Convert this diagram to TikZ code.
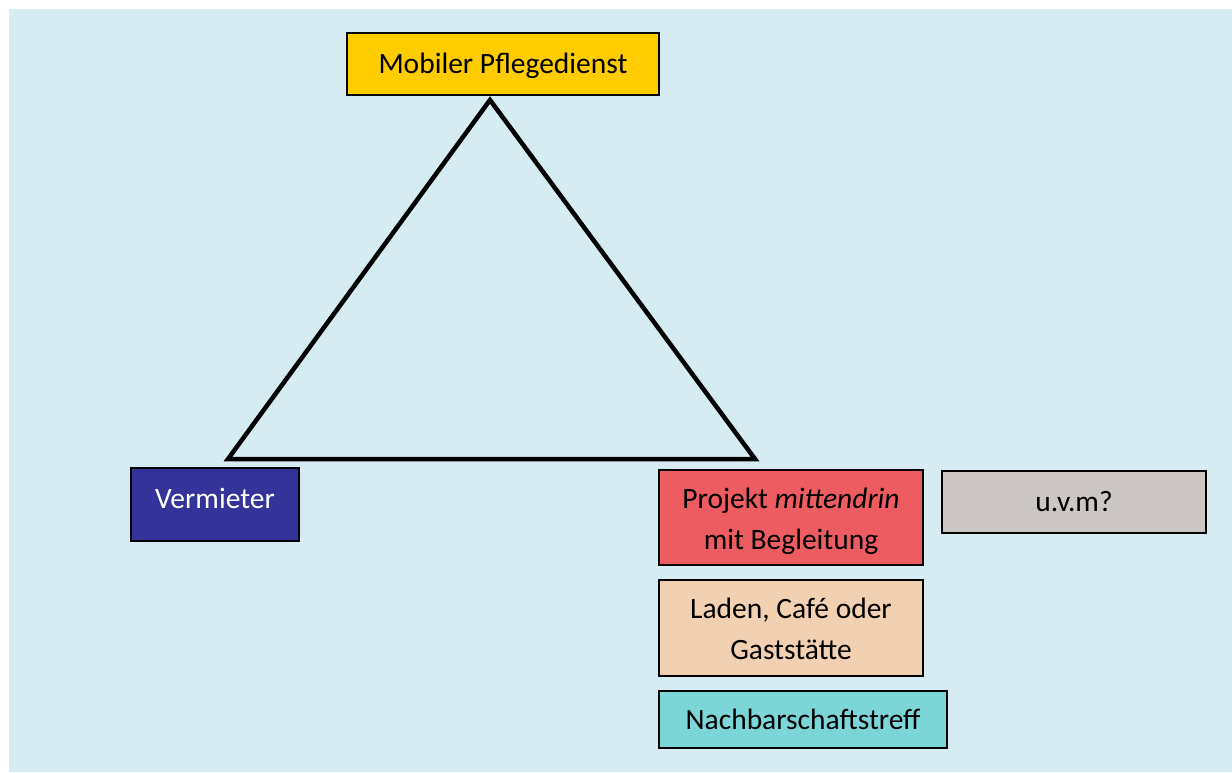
\documentclass[tikz,border=0pt]{standalone}
\usepackage{fontspec}
\setmainfont{Carlito}
\definecolor{bgblue}{RGB}{214,236,242}
\definecolor{pgyellow}{RGB}{255,204,0}
\definecolor{vmblue}{RGB}{51,51,153}
\definecolor{pjred}{RGB}{236,92,96}
\definecolor{uvmgrey}{RGB}{204,198,196}
\definecolor{ldpeach}{RGB}{242,208,178}
\definecolor{nbturq}{RGB}{124,214,216}
\newcommand{\shiftdown}[2]{\raisebox{-#1}[\height][\depth]{#2}}
\tikzset{
  box/.style={draw=black, line width=2pt, inner sep=0pt, align=center,
    font=\fontsize{29.5}{41}\selectfont, text=black},
  tri/.style={draw=black, line width=4.5pt, line join=miter}
}
\begin{document}
\begin{tikzpicture}[x=1pt,y=-1pt]
\useasboundingbox (0,0) rectangle (1232,772);
\fill[bgblue] (9,9) rectangle (1232,772);
\node[box, fill=pgyellow, minimum width=312pt, minimum height=62pt] (pflege) at (503,64) {\shiftdown{2pt}{Mobiler Pflegedienst}};
\node[box, fill=vmblue, text=white, minimum width=168pt, minimum height=73pt] (vermieter) at (215,504.5) {\shiftdown{-6pt}{Vermieter}};
\node[box, fill=pjred, minimum width=264pt, minimum height=95pt] (projekt) at (791,517.5) {\shiftdown{3pt}{\begin{tabular}{@{}c@{}}Projekt \textit{mittendrin}\\mit Begleitung\end{tabular}}};
\node[box, fill=uvmgrey, minimum width=264pt, minimum height=62pt] (uvm) at (1074,502) {u.v.m?};
\node[box, fill=ldpeach, minimum width=264pt, minimum height=96pt] (laden) at (791,628) {\shiftdown{3pt}{\begin{tabular}{@{}c@{}}Laden, Café oder\\Gaststätte\end{tabular}}};
\node[box, fill=nbturq, minimum width=288pt, minimum height=57pt] (nachbar) at (803,719.5) {Nachbarschaftstreff};
\coordinate (apex) at (490,100);
\coordinate (tleft) at (228,459);
\coordinate (tright) at (755,459);
\draw[tri] (apex) -- (tright) -- (tleft) -- cycle;
\end{tikzpicture}
\end{document}
